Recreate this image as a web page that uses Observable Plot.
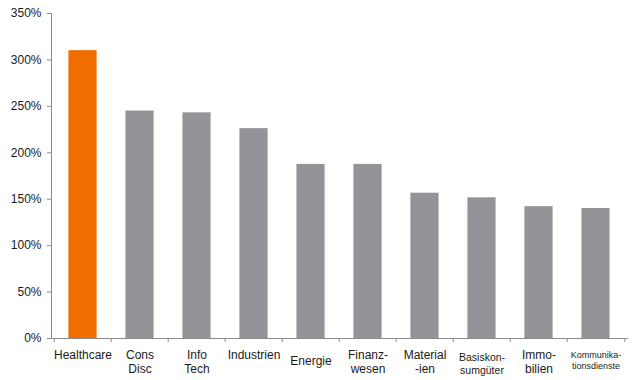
<!DOCTYPE html>
<html>
<head>
<meta charset="utf-8">
<script src="https://cdn.jsdelivr.net/npm/d3@7"></script>
<script src="https://cdn.jsdelivr.net/npm/@observablehq/plot@0.6"></script>
<style>
  html, body { margin: 0; padding: 0; background: #fff; }
</style>
</head>
<body>
<div id="chart"></div>
<script>
// ---- Data ----
const categories = ["Healthcare", "Cons Disc", "Info Tech", "Industrien", "Energie", "Finanzwesen", "Materialien", "Basiskonsumgüter", "Immobilien", "Kommunikationsdienste"];
const labels = ["Healthcare", "Cons\nDisc", "Info\nTech", "Industrien", "Energie", "Finanz-\nwesen", "Material\n-ien", "Basiskon-\nsumgüter", "Immo-\nbilien", "Kommunika-\ntionsdienste"];
const values = [3.10, 2.45, 2.43, 2.26, 1.875, 1.875, 1.565, 1.515, 1.42, 1.40];
const highlighted = ["Healthcare"];
const yTicks = [0, 0.5, 1, 1.5, 2, 2.5, 3, 3.5];

// ---- Styles ----
const W = 640, H = 380;
const M = {top: 13, right: 13, bottom: 42, left: 51};
const band = (W - M.left - M.right) / categories.length;
const ORANGE = "#EF6E00", GREY = "#939498", AXIS = "#8a8a8a", TEXT = "#1a1a1a";
const labelStyle = {
  "Basiskonsumgüter": {fontSize: 10.5, dy: 14, lineHeight: 1.17},
  "Kommunikationsdienste": {fontSize: 9, dy: 11, lineHeight: 1.25},
  "Energie": {fontSize: 12, dy: 16.5, lineHeight: 1.2}
};
const defStyle = {fontSize: 12, dy: 10, lineHeight: 1.2};

const data = categories.map((c, i) => ({cat: c, label: labels[i], value: values[i]}));
const groups = d3.groups(data, d => JSON.stringify(labelStyle[d.cat] || defStyle));

const chart = Plot.plot({
  width: W, height: H,
  marginTop: M.top, marginRight: M.right, marginBottom: M.bottom, marginLeft: M.left,
  style: {fontFamily: "'Liberation Sans', Arial, Helvetica, sans-serif", fontSize: "12px", color: TEXT, background: "#fff"},
  x: {type: "band", domain: categories, padding: 0, axis: null},
  y: {domain: [0, 3.5], axis: null},
  marks: [
    Plot.barY(data, {
      x: "cat", y: "value",
      fill: d => highlighted.includes(d.cat) ? ORANGE : GREY,
      insetLeft: band / 4, insetRight: band / 4
    }),
    Plot.axisY({ticks: yTicks, tickFormat: d3.format(".0%"), tickSize: 4, tickPadding: 6, stroke: AXIS, fill: TEXT, fontSize: 12, label: null}),
    Plot.axisX({ticks: categories, tickFormat: () => "", tickSize: 4, dx: -band / 2, stroke: AXIS, label: null}),
    Plot.axisX({ticks: categories.slice(-1), tickFormat: () => "", tickSize: 4, dx: band / 2, stroke: AXIS, label: null}),
    Plot.frame({anchor: "left", stroke: AXIS}),
    Plot.frame({anchor: "bottom", stroke: AXIS}),
    ...groups.map(([key, rows]) => {
      const s = JSON.parse(key);
      return Plot.text(rows, {
        x: "cat", y: () => 0, text: "label",
        lineAnchor: "top", textAnchor: "middle",
        fontSize: s.fontSize, dy: s.dy, lineHeight: s.lineHeight,
        fill: TEXT
      });
    })
  ]
});
document.getElementById("chart").append(chart);
</script>
</body>
</html>
